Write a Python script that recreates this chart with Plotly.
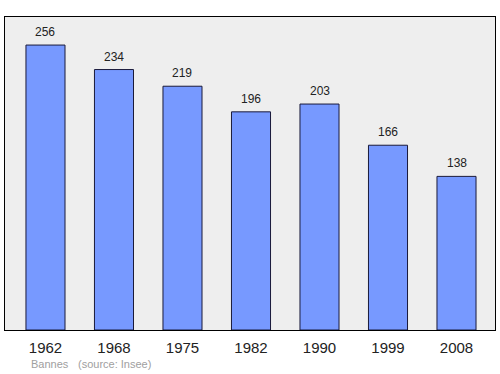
import plotly.graph_objects as go

years = ["1962", "1968", "1975", "1982", "1990", "1999", "2008"]
population = [256, 234, 219, 196, 203, 166, 138]
commune = "Bannes"
source = "(source: Insee)"

xs = list(range(len(years)))

fig = go.Figure()
fig.add_trace(go.Bar(
    x=xs, y=population, width=0.57,
    marker=dict(color="#7799ff", line=dict(color="#1a1a3a", width=1)),
    hoverinfo="skip",
))

for x, v in zip(xs, population):
    fig.add_annotation(x=x, y=v, text=str(v), showarrow=False, yshift=13,
                       font=dict(family="Liberation Sans", size=12, color="#222222"))

fig.add_annotation(xref="paper", yref="paper", x=(29-5)/490, y=-(364-330)/313, xanchor="left", yanchor="middle",
                   text=commune, showarrow=False, font=dict(family="Liberation Sans", size=11, color="#a0a0a0"))
fig.add_annotation(xref="paper", yref="paper", x=(76-5)/490, y=-(364-330)/313, xanchor="left", yanchor="middle",
                   text=source, showarrow=False, font=dict(family="Liberation Sans", size=11, color="#a0a0a0"))

fig.update_layout(
    width=500, height=374,
    margin=dict(l=5, r=5, t=17, b=44),
    paper_bgcolor="white", plot_bgcolor="#eeeeee",
    showlegend=False,
    xaxis=dict(range=[-0.591, 6.562], tickvals=xs, ticktext=years, showgrid=False, zeroline=False,
               showline=True, mirror=True, linecolor="black", linewidth=1.3,
               ticks="", ticklabelstandoff=4,
               tickfont=dict(family="Liberation Sans", size=15, color="#222222")),
    yaxis=dict(range=[0, 281.2], showgrid=False, zeroline=False, showticklabels=False,
               showline=True, mirror=True, linecolor="black", linewidth=1.3, ticks=""),
)
fig.write_html("out.html")
